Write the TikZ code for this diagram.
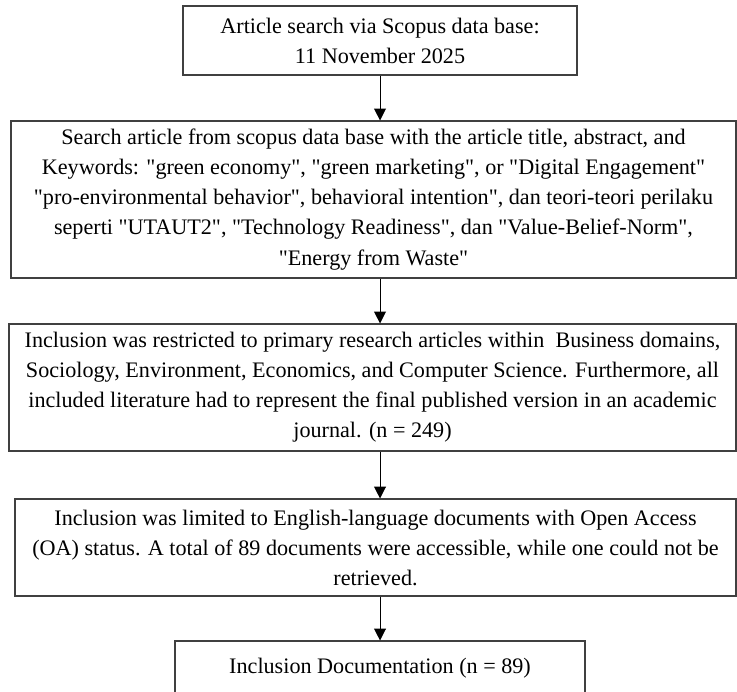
\documentclass[tikz,border=0pt]{standalone}
\usepackage{fontspec}
\setmainfont{Liberation Serif}[Ligatures=TeXOff]
\usetikzlibrary{arrows.meta,positioning}
\definecolor{frame}{HTML}{404040}

\begin{document}
\begin{tikzpicture}[>={Triangle[width=7.5pt,length=7.5pt]},
  every node/.style={font=\fontsize{14}{19}\selectfont,align=center,inner sep=0pt},
  stepbox/.style={draw=frame,line width=0.7pt}]
\useasboundingbox (0,0) rectangle (16.372,-15.351);
\clip (0,0) rectangle (16.372,-15.351);
\node[stepbox,minimum width=8.753cm,minimum height=1.533cm] (search) at (8.442,-0.900)
  {Article search via Scopus data base:\\11 November 2025};
\node[stepbox,minimum width=16.106cm,minimum height=3.488cm] (keywords) at (8.297,-4.432)
  {Search article from scopus data base with the article title, abstract, and\\
   Keywords: "green economy", "green marketing", or "Digital Engagement"\\
   "pro-environmental behavior", behavioral intention", dan teori-teori perilaku\\
   seperti "UTAUT2", "Technology Readiness", dan "Value-Belief-Norm",\\
   "Energy from Waste"};
\node[stepbox,minimum width=16.150cm,minimum height=2.821cm] (restrict) at (8.275,-8.608)
  {Inclusion was restricted to primary research articles within\ \ Business domains,\\
   Sociology, Environment, Economics, and Computer Science. Furthermore, all\\
   included literature had to represent the final published version in an academic\\
   journal. (n = 249)};
\node[stepbox,minimum width=16.017cm,minimum height=2.155cm] (openaccess) at (8.342,-12.163)
  {Inclusion was limited to English-language documents with Open Access\\
   (OA) status. A total of 89 documents were accessible, while one could not be\\
   retrieved.};
\node[stepbox,minimum width=9.108cm,minimum height=1.2cm] (included) at (8.442,-14.840)
  {Inclusion Documentation (n = 89)};
% arrows between the stages
\draw[->,line width=0.6pt] (search.south) -- (search.south |- keywords.north);
\draw[->,line width=0.6pt] (keywords.south -| search.south) -- (restrict.north -| search.south);
\draw[->,line width=0.6pt] (restrict.south -| search.south) -- (openaccess.north -| search.south);
\draw[->,line width=0.6pt] (openaccess.south -| search.south) -- (included.north);
\end{tikzpicture}
\end{document}
